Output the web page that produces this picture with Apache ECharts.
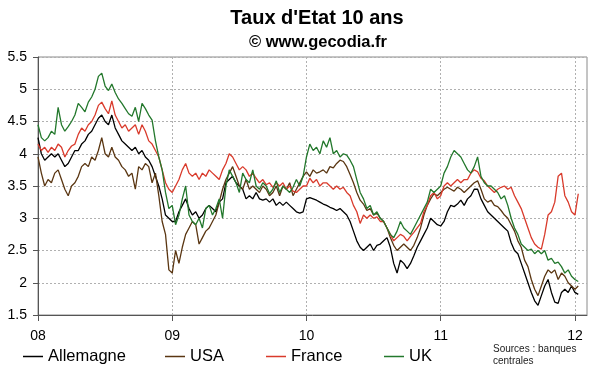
<!DOCTYPE html>
<html>
<head>
<meta charset="utf-8">
<script src="https://cdn.jsdelivr.net/npm/echarts@6/dist/echarts.min.js"></script>
<style>
html,body{margin:0;padding:0;background:#fff;}
#c{width:600px;height:372px;}
</style>
</head>
<body>
<div id="c"></div>
<script>
// Sampling step (years) between consecutive readings, starting January 2008
var step = 0.025;
var yearLabels = ['08', '09', '10', '11', '12'];
var seriesNames = ['Allemagne', 'USA', 'France', 'UK'];

var allemagne = [
4.25,4.0,3.9,3.95,4.0,3.95,4.0,3.9,3.8,3.85,
3.95,4.05,4.05,4.15,4.2,4.3,4.35,4.45,4.55,4.6,
4.5,4.45,4.6,4.4,4.3,4.2,4.15,4.1,4.05,4.1,
4.0,4.05,3.95,3.9,3.8,3.65,3.5,3.3,3.05,3.0,
2.95,2.95,3.1,3.2,3.3,3.15,3.05,3.1,3.0,3.05,
3.15,3.2,3.15,3.1,3.25,3.3,3.55,3.6,3.65,3.55,
3.5,3.45,3.3,3.35,3.3,3.4,3.3,3.28,3.3,3.25,
3.3,3.2,3.25,3.2,3.25,3.2,3.15,3.1,3.08,3.1,
3.3,3.32,3.3,3.28,3.25,3.22,3.2,3.17,3.15,3.12,
3.15,3.1,3.05,2.95,2.8,2.65,2.55,2.5,2.55,2.6,
2.5,2.58,2.6,2.65,2.7,2.55,2.3,2.15,2.35,2.3,
2.22,2.3,2.42,2.55,2.65,2.75,2.85,3.0,2.95,2.9,
2.88,2.95,3.1,3.2,3.18,3.22,3.28,3.2,3.3,3.35,
3.45,3.45,3.3,3.2,3.1,3.05,3.0,2.95,2.9,2.85,
2.8,2.62,2.5,2.45,2.3,2.15,2.0,1.85,1.72,1.65,
1.8,1.95,2.05,1.85,1.7,1.68,1.85,1.9,1.85,1.95,
1.85,1.82];

var usa = [
3.95,3.7,3.5,3.6,3.55,3.7,3.75,3.6,3.45,3.35,
3.5,3.55,3.65,3.8,3.85,3.8,3.95,3.9,4.05,4.25,
4.0,3.95,4.1,3.95,3.9,3.8,3.75,3.65,3.7,3.45,
3.8,3.75,3.85,3.8,3.55,3.7,3.35,2.95,2.75,2.2,
2.15,2.5,2.3,2.55,2.75,2.85,2.95,2.9,2.6,2.7,
2.8,2.85,2.95,3.05,3.25,3.45,3.6,3.7,3.8,3.65,
3.5,3.45,3.6,3.45,3.5,3.45,3.4,3.5,3.45,3.35,
3.4,3.5,3.35,3.5,3.45,3.55,3.35,3.45,3.55,3.65,
3.72,3.65,3.75,3.7,3.72,3.75,3.7,3.8,3.78,3.85,
3.9,3.88,3.8,3.68,3.55,3.4,3.28,3.22,3.12,3.15,
3.05,3.08,3.0,2.95,2.85,2.7,2.58,2.5,2.55,2.6,
2.55,2.5,2.58,2.7,2.85,3.05,3.2,3.3,3.38,3.35,
3.4,3.45,3.48,3.45,3.42,3.48,3.45,3.4,3.45,3.5,
3.55,3.58,3.45,3.3,3.25,3.28,3.2,3.18,3.12,3.05,
3.0,2.9,2.8,2.65,2.55,2.35,2.25,2.05,1.9,1.8,
1.95,2.1,2.2,2.15,2.2,2.05,2.15,2.1,2.0,1.95,
1.9,1.95];

var france = [
4.15,4.05,4.1,4.02,4.1,4.05,4.15,4.1,3.95,4.05,
4.12,4.15,4.3,4.4,4.35,4.45,4.5,4.6,4.75,4.8,
4.7,4.62,4.82,4.6,4.5,4.4,4.45,4.35,4.4,4.45,
4.3,4.45,4.35,4.2,4.15,4.05,3.95,3.75,3.55,3.45,
3.4,3.5,3.6,3.75,3.85,3.7,3.65,3.7,3.6,3.7,
3.65,3.75,3.7,3.65,3.6,3.75,3.85,4.0,3.95,3.85,
3.75,3.8,3.75,3.65,3.7,3.62,3.55,3.6,3.52,3.55,
3.48,3.55,3.5,3.55,3.45,3.5,3.42,3.4,3.45,3.5,
3.5,3.62,3.55,3.6,3.5,3.55,3.55,3.5,3.45,3.5,
3.45,3.48,3.4,3.35,3.2,3.1,2.92,3.05,3.0,3.05,
3.0,3.02,2.95,2.95,2.85,2.75,2.65,2.7,2.75,2.72,
2.65,2.72,2.78,2.85,2.92,3.1,3.2,3.35,3.4,3.3,
3.35,3.5,3.55,3.5,3.55,3.6,3.55,3.6,3.6,3.7,
3.75,3.72,3.62,3.58,3.5,3.45,3.4,3.45,3.48,3.5,
3.45,3.48,3.35,3.25,3.15,3.0,2.85,2.7,2.6,2.55,
2.52,2.75,3.05,3.1,3.25,3.65,3.7,3.35,3.25,3.1,
3.05,3.38];

var uk = [
4.45,4.25,4.2,4.25,4.35,4.3,4.72,4.45,4.35,4.42,
4.5,4.6,4.78,4.72,4.65,4.8,4.88,5.0,5.2,5.25,
5.05,4.98,5.08,4.95,4.85,4.78,4.7,4.62,4.58,4.72,
4.5,4.78,4.7,4.6,4.52,4.2,3.95,3.75,3.4,3.15,
3.2,2.9,3.05,3.3,3.5,3.05,2.95,2.9,3.0,2.85,
3.15,3.2,3.05,3.15,3.3,3.0,3.5,3.75,3.65,3.55,
3.4,3.7,3.6,3.55,3.75,3.5,3.45,3.55,3.5,3.38,
3.45,3.58,3.4,3.5,3.45,3.4,3.48,3.6,3.5,3.65,
3.95,4.15,4.05,4.1,4.0,4.2,4.1,4.25,4.0,4.05,
3.95,4.0,3.98,3.9,3.8,3.6,3.4,3.3,3.15,3.2,
3.05,3.1,3.0,2.95,2.85,2.75,2.7,2.8,2.95,2.85,
2.8,2.75,2.85,2.95,3.05,3.15,3.25,3.45,3.4,3.45,
3.5,3.7,3.8,3.95,4.05,4.0,3.95,3.85,3.75,3.7,
3.8,3.95,3.65,3.55,3.5,3.5,3.45,3.4,3.3,3.35,
3.2,3.0,2.85,2.75,2.6,2.55,2.5,2.52,2.45,2.5,
2.45,2.5,2.35,2.38,2.3,2.32,2.25,2.15,2.2,2.1,
2.05,2.02];

var colors = ['#000000', '#5a3612', '#d93a2b', '#23782c'];
var FONT = '"Liberation Sans", Arial, sans-serif';

function pts(arr) {
  return arr.map(function (v, i) { return [i * step, v]; });
}

var chart = echarts.init(document.getElementById('c'), null, {renderer: 'canvas'});
var datasets = [allemagne, usa, france, uk];
var legendLeft = [23, 165, 266, 384];

chart.setOption({
  animation: false,
  backgroundColor: '#ffffff',
  graphic: [
    {type: 'text', left: 'center', top: 0, style: {text: ''}},
    {type: 'text', x: 317, y: 18, style: {text: "Taux d'Etat 10 ans", font: 'bold 20px ' + FONT, fill: '#000', align: 'center', verticalAlign: 'middle'}},
    {type: 'text', x: 318, y: 42, style: {text: '\u00a9 www.gecodia.fr', font: 'bold 16.5px ' + FONT, fill: '#000', align: 'center', verticalAlign: 'middle'}},
    {type: 'text', x: 493, y: 343, style: {text: 'Sources : banques\ncentrales', font: '10px ' + FONT, fill: '#222', lineHeight: 12}}
  ],
  grid: {left: 38, right: 13, top: 57, bottom: 57, show: true, borderColor: '#8a8a8a', borderWidth: 1, backgroundColor: '#fff'},
  legend: seriesNames.map(function (n, k) {
    return {
      data: [n], left: legendLeft[k], top: 348, padding: 0,
      icon: 'rect', itemWidth: 20, itemHeight: 1.5,
      textStyle: {fontSize: 16.5, fontFamily: FONT, color: '#000'}
    };
  }),
  xAxis: {
    type: 'value', min: 0, max: 4.09, interval: 0.25,
    axisLine: {show: true, lineStyle: {color: '#555', width: 1}},
    axisTick: {show: true, customValues: [0, 1, 2, 3, 4], length: 6, lineStyle: {color: '#555'}},
    axisLabel: {show: true, customValues: [0, 1, 2, 3, 4], margin: 14, fontSize: 14, fontFamily: FONT, color: '#000',
      formatter: function (v) { return yearLabels[Math.round(v)] || ''; }},
    splitLine: {show: true, lineStyle: {type: [2, 2], color: '#b0b0b0', width: 1}}
  },
  yAxis: {
    type: 'value', min: 1.5, max: 5.5, interval: 0.5,
    axisLine: {show: true, lineStyle: {color: '#555', width: 1}},
    axisTick: {show: true, length: 5, lineStyle: {color: '#555'}},
    axisLabel: {margin: 11, fontSize: 14, fontFamily: FONT, color: '#000'},
    splitLine: {show: true, lineStyle: {type: [2, 2], color: '#b0b0b0', width: 1}}
  },
  series: seriesNames.map(function (n, k) {
    return {
      name: n, type: 'line', data: pts(datasets[k]),
      showSymbol: false, symbol: 'none',
      lineStyle: {color: colors[k], width: 1.3},
      itemStyle: {color: colors[k]},
      emphasis: {disabled: true}
    };
  })
});
</script>
</body>
</html>
